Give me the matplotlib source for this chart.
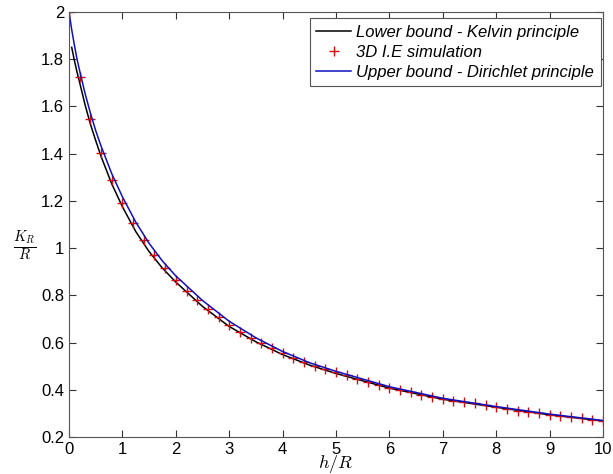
import matplotlib
matplotlib.use("Agg")
import matplotlib.pyplot as plt
from matplotlib.ticker import FormatStrFormatter

plt.rcParams['font.family'] = ['Liberation Sans', 'DejaVu Sans']
plt.rcParams['mathtext.fontset'] = 'cm'

# Upper bound (Dirichlet principle)
h_upper = [0, 0.05, 0.1, 0.15, 0.2, 0.3, 0.4, 0.5, 0.6, 0.8, 1.0, 1.25, 1.5, 1.75,
           2.0, 2.5, 3.0, 3.5, 4.0, 4.5, 5.0, 6.0, 7.0, 8.0, 9.0, 10.0]
k_upper = [2.0, 1.925, 1.86, 1.80, 1.75, 1.655, 1.572, 1.497, 1.432, 1.315, 1.217, 1.11, 1.02, 0.945,
           0.882, 0.778, 0.69, 0.62, 0.562, 0.515, 0.478, 0.413, 0.364, 0.329, 0.297, 0.27]

# Lower bound (Kelvin principle)
h_lower = [0.05, 0.1, 0.15, 0.2, 0.3, 0.4, 0.5, 0.6, 0.8, 1.0, 1.25, 1.5, 1.75,
           2.0, 2.5, 3.0, 3.5, 4.0, 4.5, 5.0, 6.0, 7.0, 8.0, 9.0, 10.0]
k_lower = [1.85, 1.795, 1.745, 1.70, 1.607, 1.525, 1.455, 1.388, 1.272, 1.175, 1.07, 0.985, 0.915,
           0.856, 0.753, 0.668, 0.603, 0.549, 0.505, 0.469, 0.407, 0.360, 0.326, 0.294, 0.268]

# 3D integral equation simulation, h/R = 0, 0.2, ..., 10
h_sim = [i * 0.2 for i in range(51)]
k_sim = [2.00, 1.725, 1.545, 1.401, 1.288, 1.192, 1.106, 1.034, 0.970, 0.914,
         0.866, 0.820, 0.780, 0.742, 0.707, 0.676, 0.646, 0.620, 0.596, 0.575,
         0.554, 0.535, 0.518, 0.502, 0.489, 0.475, 0.461, 0.446, 0.432, 0.420,
         0.409, 0.398, 0.389, 0.380, 0.370, 0.361, 0.353, 0.347, 0.342, 0.335,
         0.328, 0.319, 0.312, 0.306, 0.300, 0.295, 0.290, 0.285, 0.279, 0.274,
         0.269]

fig = plt.figure(figsize=(6.13, 4.74), dpi=100)
ax = fig.add_axes([0.1126, 0.078, 0.8711, 0.8969])

ax.plot(h_lower, k_lower, color='black', lw=1.1, label='Lower bound - Kelvin principle')
ax.plot(h_sim, k_sim, '+', color='#d01010', ms=7, mew=1.0, label='3D I.E simulation')
ax.plot(h_upper, k_upper, color='#1010c0', lw=1.1, label='Upper bound - Dirichlet principle')

ax.set_xlim(0, 10)
ax.set_ylim(0.2, 2)
ax.set_xticks(range(0, 11))
ax.set_yticks([0.2, 0.4, 0.6, 0.8, 1.0, 1.2, 1.4, 1.6, 1.8, 2.0])
ax.yaxis.set_major_formatter(FormatStrFormatter('%g'))
ax.tick_params(direction='in', top=True, right=True, length=5, labelsize=12, colors='#333333', labelcolor='black')
for s in ax.spines.values():
    s.set_color('#555555')

ax.set_xlabel(r'$h/R$', fontsize=13)
ax.xaxis.set_label_coords(0.5, -0.037)
ax.set_ylabel(r'$\frac{K_R}{R}$', fontsize=15, rotation=0, va='center', ha='center')
ax.yaxis.set_label_coords(-0.084, 0.45)

leg = ax.legend(loc='upper right', bbox_to_anchor=(0.9963, 0.986), borderaxespad=0,
                fancybox=False, edgecolor='#555555', framealpha=1,
                prop={'style': 'italic', 'size': 12}, handlelength=2.1, handletextpad=0.3,
                labelspacing=0.3, borderpad=0.4)
leg.get_frame().set_linewidth(0.8)

plt.savefig('out.png', dpi=100)
